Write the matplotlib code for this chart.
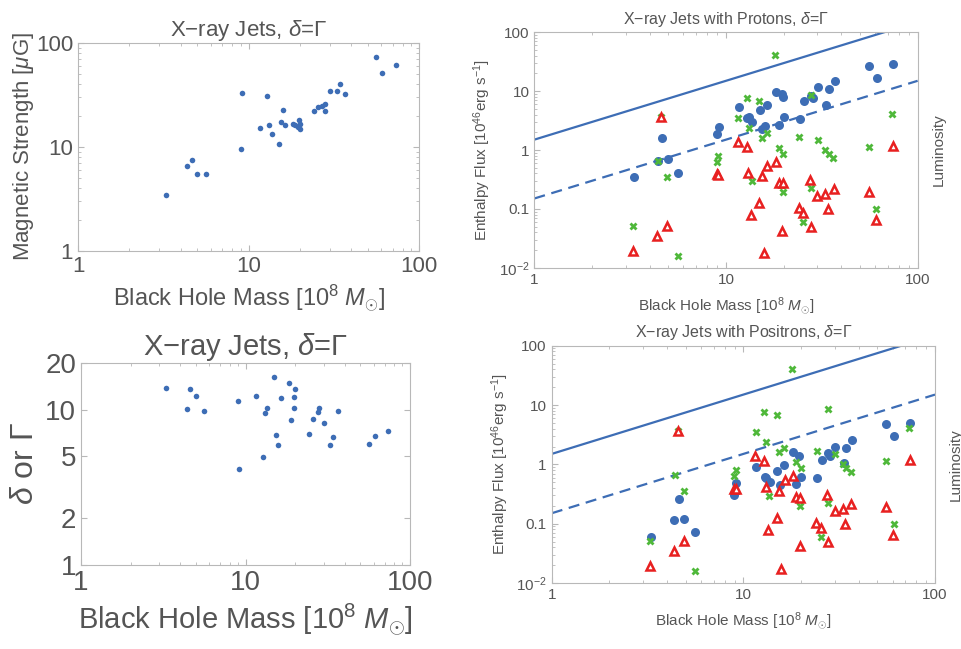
import matplotlib
matplotlib.use("Agg")
import matplotlib.pyplot as plt

plt.rcParams["font.family"] = ["Liberation Sans", "DejaVu Sans"]
plt.rcParams["mathtext.fontset"] = "custom"
plt.rcParams["mathtext.rm"] = "Liberation Sans"
plt.rcParams["mathtext.it"] = "Liberation Sans:italic"

# top left: magnetic strength
mass_b = [3.30, 4.38, 4.64, 4.97, 5.63, 9.0, 9.16, 11.7, 12.8, 13.2, 13.7, 15.1, 15.4,
          15.9, 16.4, 18.2, 18.8, 19.5, 19.8, 19.95, 20.1, 24.2, 25.6, 27.0, 28.0, 28.0,
          30.2, 33.0, 34.3, 36.8, 56.2, 61.0, 73.6]
field_b = [3.43, 6.52, 7.45, 5.46, 5.46, 9.64, 33.0, 15.2, 30.7, 16.2, 13.4, 10.6, 17.4,
           22.7, 16.2, 16.5, 16.2, 15.6, 18.0, 16.8, 15.0, 22.0, 24.2, 24.6, 26.1, 22.0,
           34.3, 34.3, 40.6, 32.1, 73.3, 51.5, 61.9]

# bottom left: doppler / Lorentz factor
mass_d = [3.27, 4.39, 4.60, 4.98, 5.59, 8.96, 9.17, 11.6, 12.8, 13.2, 13.6, 15.0, 15.3,
          15.8, 16.4, 18.3, 18.8, 19.6, 19.9, 19.8, 24.2, 25.7, 27.7, 28.1, 30.0, 32.8,
          34.0, 36.7, 56.1, 61.0, 73.5]
doppler = [13.7, 10.07, 13.5, 12.3, 9.78, 11.3, 4.14, 12.3, 4.95, 9.54, 10.2, 16.2, 6.89,
           5.94, 11.9, 14.9, 8.56, 12.0, 13.6, 10.3, 6.96, 8.73, 9.64, 10.2, 8.23, 5.94,
           6.62, 9.83, 6.00, 6.72, 7.24]

# top right: enthalpy flux, protons
mass_p = [3.30, 4.40, 4.63, 4.96, 5.64, 8.94, 9.16, 11.7, 12.8, 13.2, 13.6, 15.0, 15.5,
          16.0, 16.4, 18.2, 19.5, 19.9, 20.1, 19.0, 24.3, 25.6, 27.8, 28.3, 30.1, 33.3,
          34.3, 36.9, 56.0, 61.1, 74.1]
flux_p = [0.352, 0.65, 1.58, 0.70, 0.41, 1.85, 2.43, 5.46, 3.45, 3.69, 2.99, 4.79, 2.24,
          2.56, 5.82, 9.68, 8.84, 7.85, 3.59, 2.66, 3.32, 6.90, 8.28, 7.6, 11.6, 5.74,
          10.7, 14.9, 27.1, 16.9, 29.0]

# bottom right: enthalpy flux, positrons
mass_e = [3.29, 4.35, 4.62, 4.90, 5.60, 8.94, 9.16, 11.6, 12.9, 13.2, 13.7, 14.9, 15.5,
          16.3, 18.2, 18.8, 19.6, 20.0, 24.3, 25.6, 27.8, 28.3, 30.2, 33.3, 34.2, 36.8,
          55.5, 61.1, 74.1]
flux_e = [0.060, 0.115, 0.26, 0.118, 0.073, 0.304, 0.479, 0.914, 0.62, 0.60, 0.51, 0.77,
          0.45, 0.975, 1.59, 0.47, 1.38, 0.62, 0.60, 1.18, 1.53, 1.40, 1.96, 1.04, 1.91,
          2.57, 4.72, 3.04, 5.04]

# green crosses
mass_x = [3.26, 4.40, 4.58, 4.90, 5.62, 8.94, 9.12, 11.6, 12.8, 13.2, 13.6, 14.9, 15.4,
          16.3, 18.0, 18.9, 19.9, 19.5, 19.8, 24.1, 25.3, 27.7, 27.7, 30.1, 32.9, 34.5,
          36.3, 55.5, 60.7, 73.5]
lum_x = [0.051, 0.65, 3.69, 0.352, 0.0158, 0.634, 0.79, 3.45, 7.76, 2.34, 0.297, 6.90,
         1.62, 1.92, 41.2, 1.10, 0.855, 0.254, 0.196, 1.69, 0.0605, 8.61, 0.223, 1.48,
         1.0, 0.855, 0.741, 1.14, 0.098, 4.04]

# red triangles
mass_t = [3.26, 4.35, 4.58, 4.90, 8.94, 9.12, 11.5, 12.8, 13.1, 13.5, 14.9, 15.4, 15.7,
          16.4, 18.2, 18.8, 19.8, 19.7, 23.9, 25.3, 27.4, 27.7, 30.0, 32.9, 33.9, 36.6,
          55.6, 60.6, 74.0]
lum_t = [0.0192, 0.0345, 3.59, 0.051, 0.386, 0.38, 1.39, 1.14, 0.41, 0.0785, 0.127, 0.361,
         0.0175, 0.542, 0.634, 0.279, 0.271, 0.0425, 0.102, 0.086, 0.309, 0.0497, 0.165,
         0.179, 0.099, 0.217, 0.191, 0.0646, 1.19]

# luminosity limit lines
line_mass = [1, 100]
solid_flux = [1.5, 150]
dashed_flux = [0.15, 15]

TXT = "#555555"
EDGE = "#b8b8b8"
BLUE = "#3d6db5"
RED = "#e82020"
GREEN = "#4fb83a"
MSUN = r"Black Hole Mass [10$^{8}$ $M_{\odot}$]"


def style(ax, fs):
    ax.set_xscale("log")
    ax.set_yscale("log")
    for s in ax.spines.values():
        s.set_color(EDGE)
    ax.tick_params(which="both", direction="in", top=True, right=True,
                   colors=EDGE, labelcolor=TXT, labelsize=fs)
    ax.tick_params(which="major", length=4)
    ax.tick_params(which="minor", length=2)
    ax.set_xlim(1, 100)
    ax.set_xticks([1, 10, 100])
    ax.set_xticklabels(["1", "10", "100"])


fig = plt.figure(figsize=(9.62, 6.49), dpi=100)

# top left
ax1 = fig.add_axes([0.0811, 0.6133, 0.3545, 0.3205])
style(ax1, 16)
ax1.plot(mass_b, field_b, "o", color=BLUE, ms=4, mec="none")
ax1.set_ylim(1, 100)
ax1.set_yticks([1, 10, 100])
ax1.set_yticklabels(["1", "10", "100"])
ax1.set_title(r"X$-$ray Jets, $\delta$=Γ", color=TXT, fontsize=16, pad=5)
ax1.set_xlabel(MSUN, color=TXT, fontsize=17, labelpad=4)
ax1.set_ylabel(r"Magnetic Strength [$\mu$G]", color=TXT, fontsize=16, labelpad=0)

# bottom left
ax3 = fig.add_axes([0.0842, 0.1294, 0.342, 0.3117])
style(ax3, 20)
ax3.plot(mass_d, doppler, "o", color=BLUE, ms=4, mec="none")
ax3.set_ylim(1, 20)
ax3.set_yticks([1, 2, 5, 10, 20])
ax3.set_yticklabels(["1", "2", "5", "10", "20"])
ax3.yaxis.set_minor_locator(matplotlib.ticker.NullLocator())
ax3.set_title(r"X$-$ray Jets, $\delta$=Γ", color=TXT, fontsize=21, pad=3)
ax3.set_xlabel(MSUN, color=TXT, fontsize=21, labelpad=4)
ax3.set_ylabel(r"$\delta$ or Γ", color=TXT, fontsize=23, labelpad=4)


def flux_panel(rect, mass, flux, title):
    ax = fig.add_axes(rect)
    style(ax, 11)
    ax.plot(line_mass, solid_flux, "-", color=BLUE, lw=1.6)
    ax.plot(line_mass, dashed_flux, "--", color=BLUE, lw=1.6, dashes=(5, 3))
    ax.plot(mass, flux, "o", color=BLUE, ms=6.5, mec="none", zorder=3)
    ax.plot(mass_x, lum_x, "X", color=GREEN, ms=5.5, mec="none", zorder=4)
    ax.plot(mass_t, lum_t, "^", color="white", mec=RED, mew=1.8, ms=6, zorder=5)
    ax.set_ylim(0.01, 100)
    ax.set_yticks([0.01, 0.1, 1, 10, 100])
    ax.set_yticklabels([r"10$^{-2}$", "0.1", "1", "10", "100"])
    ax.set_title(title, color=TXT, fontsize=11.5, pad=6)
    ax.set_xlabel(MSUN, color=TXT, fontsize=11, labelpad=6)
    ax.set_ylabel(r"Enthalpy Flux [10$^{46}$erg s$^{-1}$]", color=TXT, fontsize=11,
                  labelpad=4)
    twin = ax.twinx()
    twin.set_yticks([])
    for s in twin.spines.values():
        s.set_visible(False)
    twin.set_ylabel("Luminosity", color=TXT, fontsize=11, labelpad=10)
    return ax


flux_panel([0.5554, 0.5875, 0.3985, 0.3627], mass_p, flux_p,
           r"X$-$ray Jets with Protons, $\delta$=Γ")
flux_panel([0.5735, 0.1017, 0.3985, 0.3656], mass_e, flux_e,
           r"X$-$ray Jets with Positrons, $\delta$=Γ")

fig.savefig("out.png", dpi=100)
